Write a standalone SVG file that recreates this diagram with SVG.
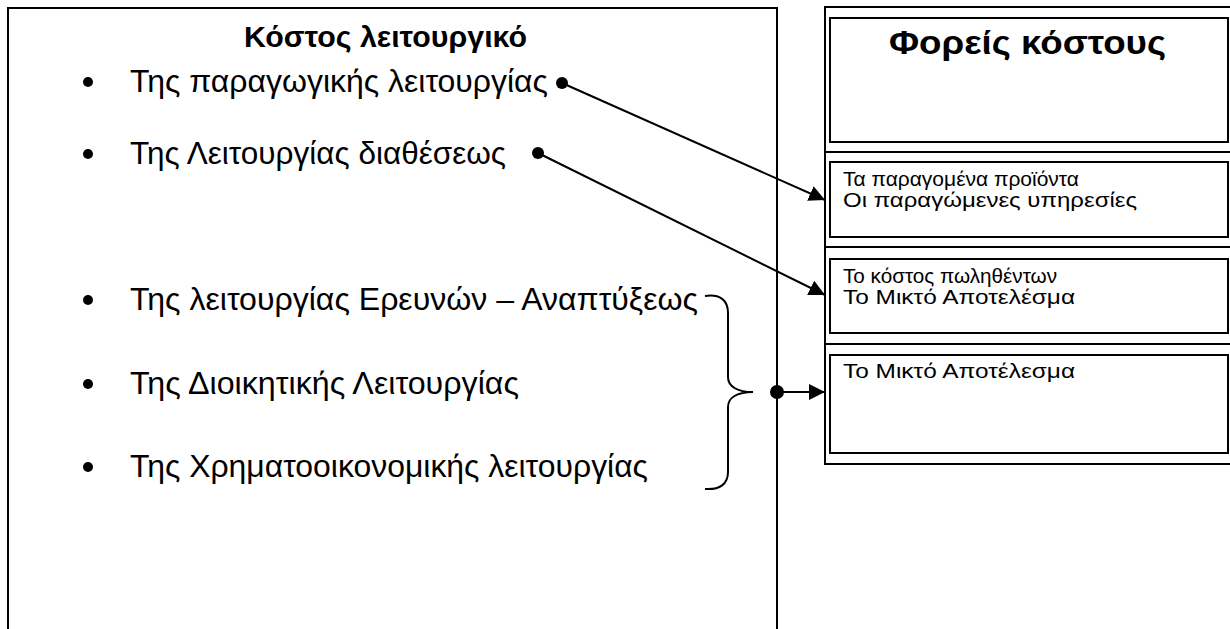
<svg xmlns="http://www.w3.org/2000/svg" width="1230" height="629" viewBox="0 0 1230 629">
  <style>
    .frame { fill: #fff; stroke: #000; stroke-width: 2; }
    .box { fill: none; stroke: #000; stroke-width: 2; }
    .head { font-family: "Liberation Sans", Arial, sans-serif; font-weight: bold; fill: #000; }
    .item { font-family: "Liberation Sans", Arial, sans-serif; font-size: 32px; fill: #000; }
    .small { font-family: "Liberation Sans", Arial, sans-serif; font-size: 20px; fill: #000; }
    .wire { fill: none; stroke: #000; stroke-width: 2; }
  </style>
  <defs>
    <marker id="arrow" viewBox="0 0 16 16" refX="16" refY="8" markerWidth="16" markerHeight="16" markerUnits="userSpaceOnUse" orient="auto">
      <path d="M0,0 L16,8 L0,16 Z" fill="#000"/>
    </marker>
  </defs>
  <rect width="1230" height="629" fill="#fff"/>

  <!-- operating cost panel -->
  <g id="operating-cost">
    <rect class="frame" x="8" y="8" width="769" height="640"/>
    <text class="head" x="244" y="47" font-size="30" textLength="283" lengthAdjust="spacingAndGlyphs">Κόστος λειτουργικό</text>
    <circle cx="88" cy="82" r="5"/>
    <text class="item" x="130" y="92" textLength="418" lengthAdjust="spacingAndGlyphs">Της παραγωγικής λειτουργίας</text>
    <circle cx="88" cy="154" r="5"/>
    <text class="item" x="130" y="164" textLength="376" lengthAdjust="spacingAndGlyphs">Της Λειτουργίας διαθέσεως</text>
    <circle cx="88" cy="300" r="5"/>
    <text class="item" x="130" y="310" textLength="568" lengthAdjust="spacingAndGlyphs">Της λειτουργίας Ερευνών – Αναπτύξεως</text>
    <circle cx="88" cy="384" r="5"/>
    <text class="item" x="130" y="394" textLength="389" lengthAdjust="spacingAndGlyphs">Της Διοικητικής Λειτουργίας</text>
    <circle cx="88" cy="467" r="5"/>
    <text class="item" x="130" y="477" textLength="518" lengthAdjust="spacingAndGlyphs">Της Χρηματοοικονομικής λειτουργίας</text>
  </g>

  <!-- cost carriers table -->
  <g id="cost-carriers">
    <rect class="frame" x="825" y="7" width="420" height="457"/>
    <line class="box" x1="825" y1="152" x2="1232" y2="152"/>
    <line class="box" x1="825" y1="247" x2="1232" y2="247"/>
    <line class="box" x1="825" y1="344" x2="1232" y2="344"/>
  </g>
  <g id="carriers-title">
    <rect class="box" x="830" y="18" width="398" height="124"/>
    <text class="head" x="889" y="54" font-size="33" textLength="277" lengthAdjust="spacingAndGlyphs">Φορείς κόστους</text>
  </g>
  <g id="products">
    <rect class="box" x="830" y="162" width="398" height="75"/>
    <text class="small" x="843" y="186" textLength="236" lengthAdjust="spacingAndGlyphs">Τα παραγομένα προϊόντα</text>
    <text class="small" x="843" y="207" textLength="294" lengthAdjust="spacingAndGlyphs">Οι παραγώμενες υπηρεσίες</text>
  </g>
  <g id="cost-of-sales">
    <rect class="box" x="830" y="259" width="398" height="74"/>
    <text class="small" x="843" y="283" textLength="214" lengthAdjust="spacingAndGlyphs">Το κόστος πωληθέντων</text>
    <text class="small" x="843" y="304" textLength="232" lengthAdjust="spacingAndGlyphs">Το Μικτό Αποτελέσμα</text>
  </g>
  <g id="gross-result">
    <rect class="box" x="830" y="355" width="398" height="98"/>
    <text class="small" x="843" y="378" textLength="232" lengthAdjust="spacingAndGlyphs">Το Μικτό Αποτέλεσμα</text>
  </g>

  <!-- connectors -->
  <g id="connectors">
    <circle cx="562" cy="83" r="6"/>
    <line class="wire" x1="562" y1="83" x2="825" y2="200" marker-end="url(#arrow)"/>
    <circle cx="538" cy="153" r="6"/>
    <line class="wire" x1="538" y1="153" x2="825" y2="295" marker-end="url(#arrow)"/>
    <path class="wire" d="M705,296 C720,294 728,300 728,313 L728,377 C728,387 738,392 753,392 C738,392 728,397 728,407 L728,472 C728,484 720,490 705,489"/>
    <circle cx="777" cy="392" r="7"/>
    <line class="wire" x1="777" y1="392" x2="825" y2="392" marker-end="url(#arrow)"/>
  </g>
</svg>
